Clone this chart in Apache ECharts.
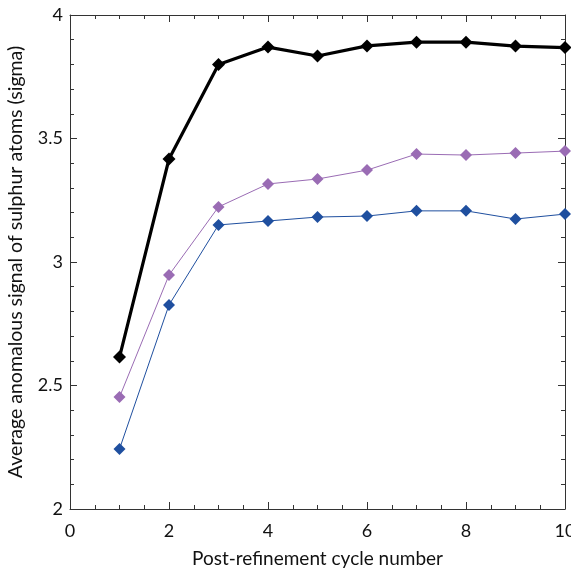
<!DOCTYPE html>
<html>
<head>
<meta charset="utf-8">
<script src="https://cdn.jsdelivr.net/npm/echarts@6/dist/echarts.min.js"></script>
<style>
  html, body { margin: 0; padding: 0; background: #fff; }
  #chart { width: 571px; height: 569px; }
</style>
</head>
<body>
<div id="chart"></div>
<script>
const cycles = [1, 2, 3, 4, 5, 6, 7, 8, 9, 10];
const blackVals = [2.615, 3.417, 3.80, 3.87, 3.834, 3.875, 3.89, 3.89, 3.874, 3.868];
const purpleVals = [2.453, 2.947, 3.223, 3.316, 3.336, 3.372, 3.437, 3.433, 3.441, 3.449];
const blueVals = [2.243, 2.826, 3.15, 3.166, 3.182, 3.186, 3.207, 3.207, 3.174, 3.194];

const font = 'Lato';
const axisCol = '#333';

const pairs = (vals) => cycles.map((c, i) => [c, vals[i]]);

const mkSeries = (name, vals, color, width, size) => ({
  type: 'line',
  name: name,
  data: pairs(vals),
  symbol: 'diamond',
  symbolSize: size,
  itemStyle: { color: color },
  lineStyle: { color: color, width: width },
  z: width > 2 ? 5 : 3,
});

const baseX = {
  type: 'value', min: 0, max: 10, interval: 2,
  axisLine: { show: true, onZero: false, lineStyle: { color: axisCol, width: 1 } },
  axisTick: { show: true, inside: true, length: 7, lineStyle: { color: axisCol } },
  minorTick: { show: true, splitNumber: 4, length: 4, lineStyle: { color: axisCol } },
  splitLine: { show: false },
};
const baseY = {
  type: 'value', min: 2, max: 4, interval: 0.5,
  axisLine: { show: true, onZero: false, lineStyle: { color: axisCol, width: 1 } },
  axisTick: { show: true, inside: true, length: 7, lineStyle: { color: axisCol } },
  minorTick: { show: true, splitNumber: 5, length: 4, lineStyle: { color: axisCol } },
  splitLine: { show: false },
};

const chart = echarts.init(document.getElementById('chart'));
chart.setOption({
  animation: false,
  backgroundColor: '#fff',
  grid: { left: 70, top: 15, right: 6, bottom: 60, containLabel: false, outerBoundsMode: 'none' },
  xAxis: [
    Object.assign({}, baseX, {
      position: 'bottom',
      name: 'Post-refinement cycle number',
      nameLocation: 'middle',
      nameGap: 40,
      nameTextStyle: { fontFamily: font, fontSize: 19, color: '#111' },
      axisLabel: { fontFamily: font, fontSize: 18, color: '#111', margin: 13 },
    }),
    Object.assign({}, baseX, { position: 'top', axisLabel: { show: false } }),
  ],
  yAxis: [
    Object.assign({}, baseY, {
      position: 'left',
      name: 'Average anomalous signal of sulphur atoms (sigma)',
      nameLocation: 'middle',
      nameGap: 44,
      nameTextStyle: { fontFamily: font, fontSize: 19.5, color: '#111' },
      axisLabel: { fontFamily: font, fontSize: 18, color: '#111', margin: 7,
        formatter: (v) => String(v) },
    }),
    Object.assign({}, baseY, { position: 'right', axisLabel: { show: false } }),
  ],
  series: [
    mkSeries('blue', blueVals, '#1f4f9f', 1, 12),
    mkSeries('purple', purpleVals, '#9a6cb4', 1, 12),
    mkSeries('black', blackVals, '#000000', 3.2, 13),
  ],
});
</script>
</body>
</html>
